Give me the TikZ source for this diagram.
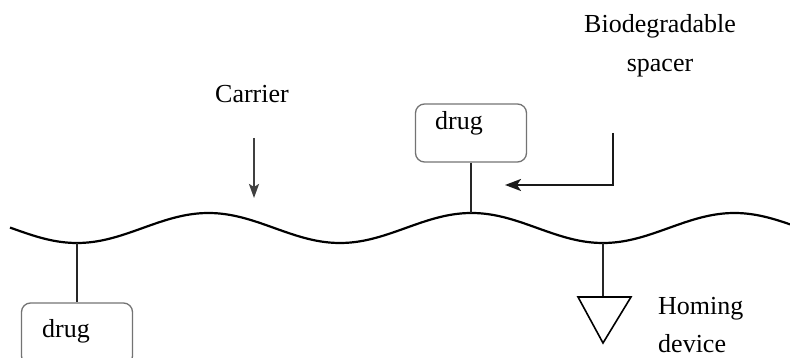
\documentclass[tikz,border=0pt]{standalone}
\usepackage{fontspec}
\setmainfont{Liberation Serif}
\usetikzlibrary{arrows.meta}
\begin{document}
\begin{tikzpicture}[x=1pt,y=1pt,
  lbl/.style={font=\fontsize{26}{30}\selectfont, inner sep=0pt, anchor=base},
  drugbox/.style={draw=black!55, line width=1.3pt, rounded corners=9pt, minimum width=111pt, minimum height=58pt, inner sep=0pt},
  link/.style={line width=2pt, black!85},
  arr/.style={line width=2.2pt, black!75, -{Stealth[length=16pt,width=12pt,inset=4pt]}}]
\useasboundingbox (0,0) rectangle (790,358);
% carrier wave
\draw[line width=2.2pt] plot[domain=10:790, samples=240, smooth] (\x, {130 - 15*cos(((\x-77)/263)*360)});
% attachment points on the wave
\coordinate (tL) at (77,115);
\coordinate (pM) at (471,145);
\coordinate (tR) at (603,115);
% drug boxes
\node[drugbox, minimum height=62pt] (drugL) at (77,24) {};
\node[lbl] (drugLt) at (66,20) {drug};
\node[drugbox] (drugT) at (471,225) {};
\node[lbl] (drugTt) at (459,228) {drug};
\draw[link] (tL) -- (drugL.north);
\draw[link] (drugT.south) -- (pM);
% carrier label and arrow
\node[lbl] (carrier) at (252,255) {Carrier};
\coordinate (cs) at (254,220);
\coordinate (ce) at (254,160);
\draw[arr, -{Stealth[length=14pt,width=10pt,inset=3pt]}] (cs) -- (ce);
% biodegradable spacer
\node[lbl] (bio) at (660,325) {Biodegradable};
\node[lbl] (spacer) at (660,286) {spacer};
\coordinate (ss) at (613,225);
\coordinate (sc) at (613,173);
\coordinate (se) at (505,173);
\draw[arr, black!90] (ss) -- (sc) -- (se);
% homing device
\coordinate (hTop) at (603,61);
\coordinate (hL) at (578,61);
\coordinate (hR) at (631,61);
\coordinate (hA) at (603,15);
\draw[link] (tR) -- (hTop);
\draw[line width=1.6pt] (hL) -- (hR) -- (hA) -- cycle;
\node[lbl, anchor=base west] (homing) at (658,43) {Homing};
\node[lbl, anchor=base west] (device) at (658,5) {device};
\end{tikzpicture}
\end{document}
